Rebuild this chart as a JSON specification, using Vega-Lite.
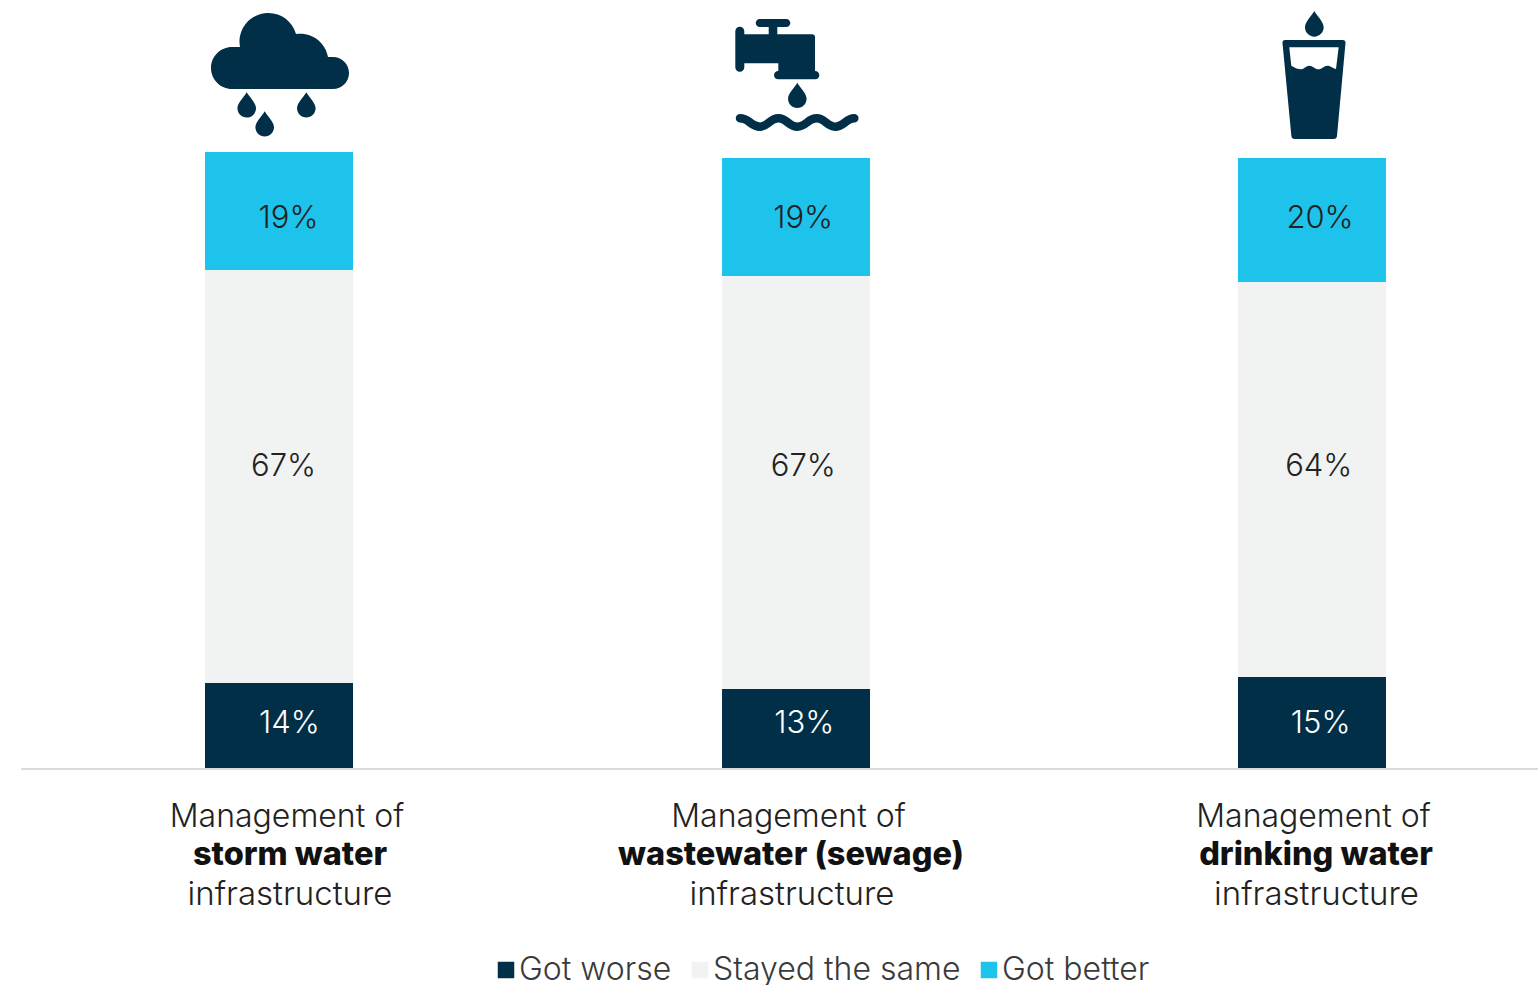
{
"$schema":"https://vega.github.io/schema/vega-lite/v6.json",
"width":1538,"height":985,"padding":0,"autosize":{"type":"none"},
"background":"white",
"config":{"view":{"stroke":null},"text":{"font":"Inter","fontSize":32,"fontWeight":300}},
"datasets":{
"bars":[
{"category":"storm water","pos":1,"status":"Got worse","rank":1,"pct":13.8},
{"category":"storm water","pos":1,"status":"Stayed the same","rank":2,"pct":67.05},
{"category":"storm water","pos":1,"status":"Got better","rank":3,"pct":19.15},
{"category":"wastewater (sewage)","pos":2.001,"status":"Got worse","rank":1,"pct":12.82},
{"category":"wastewater (sewage)","pos":2.001,"status":"Stayed the same","rank":2,"pct":67.05},
{"category":"wastewater (sewage)","pos":2.001,"status":"Got better","rank":3,"pct":19.15},
{"category":"drinking water","pos":3,"status":"Got worse","rank":1,"pct":14.77},
{"category":"drinking water","pos":3,"status":"Stayed the same","rank":2,"pct":64.12},
{"category":"drinking water","pos":3,"status":"Got better","rank":3,"pct":20.13}
],
"pctLabels":[
{"label":"19%","status":"Got better","at":1.0185,"level":89.45},
{"label":"67%","status":"Stayed the same","at":1.0087,"level":49.19},
{"label":"14%","status":"Got worse","at":1.02,"level":7.47},
{"label":"19%","status":"Got better","at":2.0148,"level":89.45},
{"label":"67%","status":"Stayed the same","at":2.0152,"level":49.19},
{"label":"13%","status":"Got worse","at":2.0172,"level":7.47},
{"label":"20%","status":"Got better","at":3.0155,"level":89.45},
{"label":"64%","status":"Stayed the same","at":3.0132,"level":49.19},
{"label":"15%","status":"Got worse","at":3.0168,"level":7.47}
],
"plainLines":[
{"line":"Management of","at":1.0155,"level":-7.63},
{"line":"Management of","at":1.9864,"level":-7.63},
{"line":"Management of","at":3.0029,"level":-7.63}
],
"lastLines":[
{"line":"infrastructure","at":1.0213,"level":-20.3},
{"line":"infrastructure","at":1.9932,"level":-20.3},
{"line":"infrastructure","at":3.0087,"level":-20.3}
],
"boldLines":[
{"line":"storm water","at":1.0213,"level":-13.8},
{"line":"wastewater (sewage)","at":1.9913,"level":-13.8},
{"line":"drinking water","at":3.0077,"level":-13.8}
],
"icons":[
{"icon":"rain","pos":1,"level":112.5},
{"icon":"tap","pos":2.001,"level":112.5},
{"icon":"glass","pos":3,"level":112.5}
],
"waves":[{"icon":"wave","pos":2.001,"level":112.5}],
"baseline":[{"from":0.5005,"to":3.4376,"level":-0.15}]
},
"layer":[
{"data":{"name":"baseline"},"mark":{"type":"rule","color":"#d9dcdc","strokeWidth":2},
"encoding":{"x":{"field":"from","type":"quantitative","scale":{"domain":[0.4598,3.4376],"nice":false,"zero":false,"padding":0},"axis":null},"x2":{"field":"to"},
"y":{"field":"level","type":"quantitative","scale":{"domain":[-35.227,124.675],"nice":false,"zero":false,"padding":0},"axis":null}}},
{"data":{"name":"bars"},"mark":{"type":"bar","size":148,"orient":"vertical"},
"encoding":{"x":{"field":"pos","type":"quantitative","axis":null},
"y":{"field":"pct","type":"quantitative","stack":"zero","axis":null},
"order":{"field":"rank","type":"ordinal"},
"color":{"field":"status","type":"nominal","scale":{"domain":["Got worse","Stayed the same","Got better"],"range":["#012f47","#f1f3f3","#1ec3ec"]},
"legend":{"title":null,"orient":"none","legendX":490,"legendY":954,"direction":"horizontal","columns":3,"symbolType":"square","symbolSize":272,"symbolStrokeWidth":0,"labelFont":"Inter","labelFontWeight":300,"labelFontSize":32,"labelColor":"#3a3a3a","labelOffset":-3,"columnPadding":12,"padding":0,"labelLimit":400}}}},
{"data":{"name":"pctLabels"},"mark":{"type":"text","baseline":"middle","align":"center","dy":2,"fontSize":31},
"encoding":{"x":{"field":"at","type":"quantitative"},"y":{"field":"level","type":"quantitative"},"text":{"field":"label"},
"color":{"condition":{"test":"datum.status==='Got worse'","value":"#ffffff"},"value":"#222222"}}},
{"data":{"name":"plainLines"},"mark":{"type":"text","baseline":"middle","align":"center","color":"#222222","dy":2},
"encoding":{"x":{"field":"at","type":"quantitative"},"y":{"field":"level","type":"quantitative"},"text":{"field":"line"}}},
{"data":{"name":"lastLines"},"mark":{"type":"text","baseline":"middle","align":"center","color":"#222222","dy":2,"fontSize":33},
"encoding":{"x":{"field":"at","type":"quantitative"},"y":{"field":"level","type":"quantitative"},"text":{"field":"line"}}},
{"data":{"name":"boldLines"},"mark":{"type":"text","baseline":"middle","align":"center","color":"#111111","fontWeight":800,"dy":2,"fontSize":32.5},
"encoding":{"x":{"field":"at","type":"quantitative"},"y":{"field":"level","type":"quantitative"},"text":{"field":"line"}}},
{"data":{"name":"icons"},"mark":{"type":"point","filled":true,"size":4,"opacity":1,"color":"#012f47","strokeWidth":0},
"encoding":{"x":{"field":"pos","type":"quantitative"},"y":{"field":"level","type":"quantitative"},
"shape":{"field":"icon","type":"nominal","legend":null,"scale":{"domain":["rain","tap","glass"],"range":[
"M-47,14 A21,21 0 0 1 -47,-28 L-39,-28 A28.6,28.6 0 0 1 -11,-62 A28.6,28.6 0 0 1 17,-41 A28,28 0 0 1 49,-18 L54,-18 A16,16 0 0 1 54,14 Z M-32.3,17.3 C-29.3,22.3 -23,28.3 -23,33.3 A9.3,9.3 0 1 1 -41.6,33.3 C-41.6,28.3 -35.3,22.3 -32.3,17.3 Z M-14.3,36.3 C-11.3,41.3 -5,47.3 -5,52.3 A9.3,9.3 0 1 1 -23.6,52.3 C-23.6,47.3 -17.3,41.3 -14.3,36.3 Z M27.3,17.3 C30.3,22.3 36.6,28.3 36.6,33.3 A9.3,9.3 0 1 1 18,33.3 C18,28.3 24.3,22.3 27.3,17.3 Z",
"M-60.7,-43.8 A4.5,4.5 0 0 1 -51.7,-43.8 L-51.7,-7.8 A4.5,4.5 0 0 1 -60.7,-7.8 Z M-52,-40.7 L16,-40.7 Q19,-40.7 19,-37.7 L19,-3 L-17.7,-3 L-17.7,-11.7 L-52,-11.7 Z M-17.85,-4 L19.15,-4 A4.15,4.15 0 0 1 19.15,4.3 L-17.85,4.3 A4.15,4.15 0 0 1 -17.85,-4 Z M-36.3,-56 L-9.7,-56 A4,4 0 0 1 -9.7,-48 L-36.3,-48 A4,4 0 0 1 -36.3,-56 Z M-27.3,-50 L-18.7,-50 L-18.7,-40 L-27.3,-40 Z M1.3,7.7 C4.3,12.7 10.6,18.7 10.6,23.7 A9.3,9.3 0 1 1 -8,23.7 C-8,18.7 -1.7,12.7 1.3,7.7 Z",
"M2.3,-64 C5.3,-59 11.7,-53 11.7,-47.7 A9.35,9.35 0 1 1 -7,-47.7 C-7,-53 -0.7,-59 2.3,-64 Z M-26.7,-35 L30.7,-35 Q33.7,-35 33.5,-32 L25,61 Q24.7,64 21.7,64 L-17.3,64 Q-20.3,64 -20.6,61 L-29.5,-32 Q-29.7,-35 -26.7,-35 Z M-22.7,-27.7 L-20.7,-9.3 C-17,-7 -14,-5.7 -11,-5.7 C-8,-5.7 -6,-9.3 -2.7,-9.3 C1,-9.3 3,-5.7 6.3,-5.7 C10,-5.7 12,-9.3 15.3,-9.3 C19,-9.3 21,-6.5 24,-6 L26.7,-27.7 Z"
]}}}},
{"data":{"name":"waves"},"mark":{"type":"point","filled":false,"size":4,"opacity":1,"color":"#012f47","strokeWidth":8.5,"strokeCap":"round","shape":"M-56,43.3 C-47,43.3 -45,51.7 -36,51.7 C-28,51.7 -26,43.3 -17.7,43.3 C-9,43.3 -7,51.7 1.3,51.7 C10,51.7 12,43.3 20.7,43.3 C29,43.3 31,51.7 39,51.7 C48,51.7 50,43.3 58.3,43.3"},
"encoding":{"x":{"field":"pos","type":"quantitative"},"y":{"field":"level","type":"quantitative"}}}
]
}
